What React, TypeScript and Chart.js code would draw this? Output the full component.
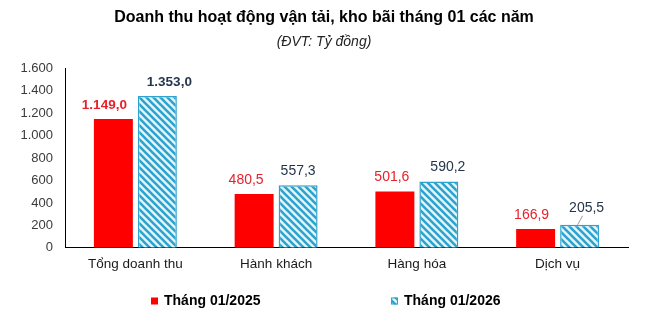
import React, { useEffect, useRef } from "react";
import { Chart, registerables } from "chart.js";

Chart.register(...registerables);

const categories = ["Tổng doanh thu", "Hành khách", "Hàng hóa", "Dịch vụ"];
const values2025 = [1149.0, 480.5, 501.6, 166.9];
const values2026 = [1353.0, 557.3, 590.2, 205.5];
const seriesNames = ["Tháng 01/2025", "Tháng 01/2026"];
const yMin = 0;
const yMax = 1600;
const yStep = 200;
const titleText = "Doanh thu hoạt động vận tải, kho bãi tháng 01 các năm";
const subtitleText = "(ĐVT: Tỷ đồng)";

const FONT = "Arial, 'Liberation Sans', sans-serif";
const RED = "#ff0000";
const RED_TEXT = "#e8202a";
const BLUE_STRIPE = "#2fa3cd";
const BLUE_BG = "#e2f6fb";
const DARK_TEXT = "#24364d";

function formatVN(v: number, decimals: number): string {
  const s = v.toFixed(decimals);
  const [i, d] = s.split(".");
  const intPart = i.replace(/\B(?=(\d{3})+(?!\d))/g, ".");
  return d !== undefined ? intPart + "," + d : intPart;
}

function makeHatch(): CanvasPattern | string {
  const size = 7;
  const c = document.createElement("canvas");
  c.width = size;
  c.height = size;
  const ctx = c.getContext("2d");
  if (!ctx) return BLUE_BG;
  ctx.fillStyle = BLUE_BG;
  ctx.fillRect(0, 0, size, size);
  ctx.strokeStyle = BLUE_STRIPE;
  ctx.lineWidth = 2.6;
  ctx.lineCap = "square";
  for (const off of [-size, 0, size]) {
    ctx.beginPath();
    ctx.moveTo(off - 1, -1);
    ctx.lineTo(off + size + 1, size + 1);
    ctx.stroke();
  }
  const p = ctx.createPattern(c, "repeat");
  return p || BLUE_BG;
}

// horizontal nudges of the value labels (style only), per dataset, per category
const labelNudgeX = [
  [-9, -8, -3, -4],
  [12, 0, 9, 7],
];

export default function App() {
  const canvasRef = useRef<HTMLCanvasElement | null>(null);

  useEffect(() => {
    const canvas = canvasRef.current;
    if (!canvas) return;
    const hatch = makeHatch();

    const valueLabels = {
      id: "valueLabels",
      afterDatasetsDraw(chart: any) {
        const ctx = chart.ctx;
        ctx.save();
        chart.data.datasets.forEach((ds: any, di: number) => {
          const meta = chart.getDatasetMeta(di);
          meta.data.forEach((bar: any, i: number) => {
            const v = ds.data[i] as number;
            const bold = i === 0;
            ctx.font = bold ? `bold 13.5px ${FONT}` : `14px ${FONT}`;
            ctx.fillStyle = di === 0 ? RED_TEXT : DARK_TEXT;
            ctx.textAlign = "center";
            ctx.textBaseline = "bottom";
            const leader = di === 1 && i === categories.length - 1;
            const lift = leader ? 10 : 7;
            const tx = bar.x + labelNudgeX[di][i];
            ctx.fillText(formatVN(v, 1), tx, bar.y - lift);
            if (leader) {
              ctx.strokeStyle = "#9a9a9a";
              ctx.lineWidth = 1;
              ctx.beginPath();
              ctx.moveTo(tx - 4, bar.y - lift + 1);
              ctx.lineTo(tx - 9, bar.y);
              ctx.stroke();
            }
          });
        });
        ctx.restore();
      },
    };

    const customLegend = {
      id: "customLegend",
      afterDraw(chart: any) {
        const ctx = chart.ctx;
        ctx.save();
        ctx.font = `bold 14px ${FONT}`;
        ctx.textBaseline = "middle";
        ctx.textAlign = "left";
        const box = 7;
        const gap = 6;
        const spacing = 131;
        const widths = seriesNames.map((n) => box + gap + ctx.measureText(n).width);
        const total = widths[0] + spacing + widths[1];
        const cx = chart.width / 2;
        const yc = 301;
        let x = Math.round(cx - total / 2);
        seriesNames.forEach((name, i) => {
          if (i === 0) {
            ctx.fillStyle = RED;
            ctx.fillRect(x, yc - box / 2, box, box);
          } else {
            ctx.fillStyle = hatch as any;
            ctx.fillRect(x, yc - box / 2, box, box);
            ctx.strokeStyle = BLUE_STRIPE;
            ctx.lineWidth = 1;
            ctx.strokeRect(x + 0.5, yc - box / 2 + 0.5, box - 1, box - 1);
          }
          ctx.fillStyle = "#000";
          ctx.fillText(name, x + box + gap, yc + 0.5);
          x += Math.round(widths[i] + spacing);
        });
        ctx.restore();
      },
    };

    const chart = new Chart(canvas, {
      type: "bar",
      data: {
        labels: categories,
        datasets: [
          {
            label: seriesNames[0],
            data: values2025,
            backgroundColor: RED,
            borderWidth: 0,
            categoryPercentage: 0.625,
            barPercentage: 0.886,
          },
          {
            label: seriesNames[1],
            data: values2026,
            backgroundColor: hatch as any,
            borderColor: BLUE_STRIPE,
            borderWidth: 1.5,
            categoryPercentage: 0.625,
            barPercentage: 0.886,
          },
        ],
      },
      options: {
        animation: false,
        responsive: false,
        devicePixelRatio: 1,
        layout: { padding: { left: 20, right: 24, top: 0, bottom: 43 } },
        plugins: {
          legend: { display: false },
          tooltip: { enabled: false },
          title: {
            display: true,
            text: titleText,
            color: "#000",
            font: { family: FONT, size: 16, weight: "bold", lineHeight: 1.2 },
            padding: { top: 8, bottom: 4 },
          },
          subtitle: {
            display: true,
            text: subtitleText,
            color: "#222",
            font: { family: FONT, size: 14, style: "italic", lineHeight: 1.2 },
            padding: { top: 2.4, bottom: 18 },
          },
        },
        scales: {
          x: {
            grid: { display: false, drawTicks: false },
            border: { display: true, color: "#000", width: 1 },
            ticks: {
              color: "#1a1a1a",
              font: { family: FONT, size: 13.5 },
              padding: 8,
            },
          },
          y: {
            min: yMin,
            max: yMax,
            grid: { display: false, drawTicks: false },
            border: { display: true, color: "#000", width: 1 },
            afterFit: (scale: any) => {
              scale.width = 45;
            },
            ticks: {
              stepSize: yStep,
              color: "#3a3a3a",
              font: { family: FONT, size: 13 },
              padding: 12,
              callback: (v: any) => formatVN(Number(v), 0),
            },
          },
        },
      },
      plugins: [valueLabels, customLegend],
    });

    return () => chart.destroy();
  }, []);

  return (
    <div style={{ position: "fixed", left: 0, top: 0, width: 652, height: 323, background: "#fff" }}>
      <canvas ref={canvasRef} width={652} height={323} style={{ display: "block" }} />
    </div>
  );
}
